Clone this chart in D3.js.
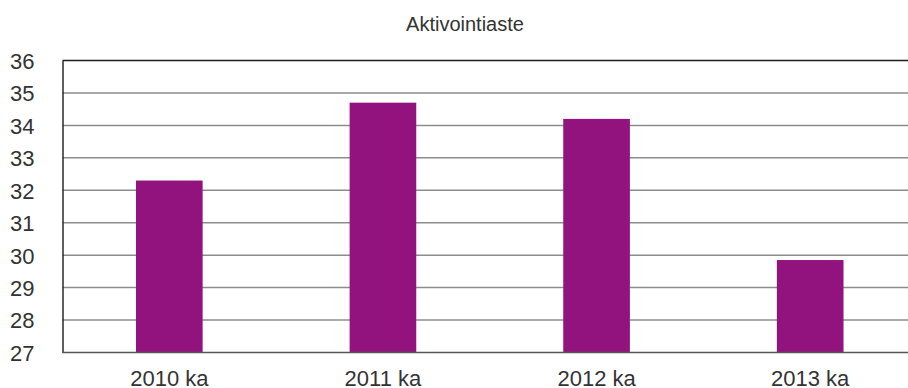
<!DOCTYPE html>
<html>
<head>
<meta charset="utf-8">
<script src="https://cdn.jsdelivr.net/npm/d3@7"></script>
<style>
  html, body { margin: 0; padding: 0; background: #fff; }
  svg { display: block; }
  text { font-family: "Liberation Sans", Arial, Helvetica, sans-serif; fill: #333; }
</style>
</head>
<body>
<svg id="chart" width="908" height="388"></svg>
<script>
// Activation rate by year
const categories = ["2010 ka", "2011 ka", "2012 ka", "2013 ka"];
const values = [32.3, 34.7, 34.2, 29.85];
const yTicks = [27, 28, 29, 30, 31, 32, 33, 34, 35, 36];
const title = "Aktivointiaste";

const width = 908, height = 388;
const plot = { left: 62.5, top: 60.5, bottom: 352.5, right: 917 };

const svg = d3.select("#chart");

const y = d3.scaleLinear()
  .domain([27, 36])
  .range([plot.bottom, plot.top]);

const x = d3.scaleBand()
  .domain(categories)
  .range([plot.left, plot.right])
  .paddingInner(0.688)
  .paddingOuter(0.344);

// horizontal gridlines
svg.append("g")
  .selectAll("line")
  .data(yTicks.filter(t => t !== 27 && t !== 36))
  .join("line")
  .attr("x1", plot.left)
  .attr("x2", width)
  .attr("y1", d => y(d))
  .attr("y2", d => y(d))
  .attr("stroke", "#8c8c8c")
  .attr("stroke-width", 1.5);

// top border line
svg.append("line")
  .attr("x1", plot.left).attr("x2", width)
  .attr("y1", y(36)).attr("y2", y(36))
  .attr("stroke", "#1e1e1e").attr("stroke-width", 1.5);

// bars
svg.append("g")
  .selectAll("rect")
  .data(values)
  .join("rect")
  .attr("x", (d, i) => x(categories[i]))
  .attr("width", x.bandwidth())
  .attr("y", d => y(d))
  .attr("height", d => y(27) - y(d))
  .attr("fill", "#93137e");

// left axis
const yAxis = svg.append("g")
  .attr("transform", `translate(${plot.left},0)`)
  .call(d3.axisLeft(y).tickValues(yTicks).tickSize(0).tickPadding(28).tickFormat(d3.format("d")));
yAxis.select(".domain").attr("stroke", "#2a2a2a").attr("stroke-width", 1.5);
yAxis.selectAll("text")
  .style("font-size", "22px")
  .attr("fill", "#333")
  .attr("dy", "0.36em");

// bottom axis
const xAxis = svg.append("g")
  .attr("transform", `translate(0,${plot.bottom})`)
  .call(d3.axisBottom(x).tickSize(0).tickPadding(18));
xAxis.select(".domain").remove();
svg.append("line")
  .attr("x1", plot.left).attr("x2", width)
  .attr("y1", plot.bottom).attr("y2", plot.bottom)
  .attr("stroke", "#555").attr("stroke-width", 1.5);
xAxis.selectAll("text")
  .style("font-size", "22px")
  .attr("fill", "#333");

// title
svg.append("text")
  .attr("x", 465)
  .attr("y", 30.5)
  .attr("text-anchor", "middle")
  .style("font-size", "20px")
  .text(title);
</script>
</body>
</html>
